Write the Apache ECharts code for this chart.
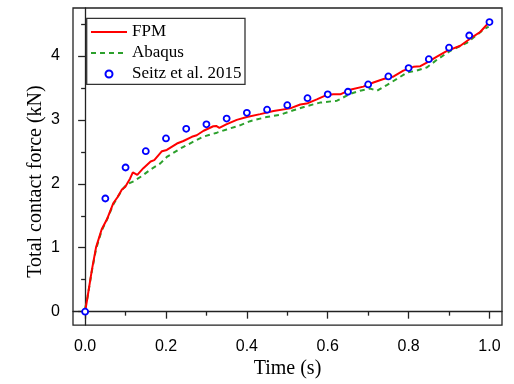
<!DOCTYPE html>
<html>
<head>
<meta charset="utf-8">
<script src="https://cdn.jsdelivr.net/npm/echarts@6/dist/echarts.min.js"></script>
<style>html,body{margin:0;padding:0;background:#fff;}#c{width:514px;height:384px;}</style>
</head>
<body>
<div id="c"></div>
<script>
var fpmTime = [0,0.006,0.0165,0.027,0.041,0.054,0.070,0.080,0.091,0.099,0.111,0.118,0.129,0.144,0.162,0.171,0.19,0.202,0.227,0.243,0.264,0.276,0.293,0.317,0.324,0.332,0.349,0.375,0.40,0.433,0.466,0.507,0.532,0.548,0.573,0.598,0.614,0.631,0.655,0.688,0.713,0.738,0.763,0.787,0.812,0.829,0.845,0.87,0.895,0.928,0.952,0.977,0.998];
var fpmForce = [0,0.23,0.645,1.006,1.29,1.445,1.70,1.79,1.91,1.95,2.08,2.18,2.14,2.245,2.35,2.37,2.51,2.53,2.63,2.67,2.735,2.76,2.83,2.90,2.905,2.875,2.93,3.00,3.045,3.09,3.14,3.18,3.24,3.255,3.32,3.39,3.40,3.40,3.47,3.52,3.585,3.64,3.68,3.77,3.83,3.84,3.895,3.99,4.08,4.16,4.27,4.375,4.52];
var abaqusTime = [0,0.006,0.0165,0.027,0.041,0.054,0.070,0.080,0.095,0.103,0.12,0.14,0.161,0.186,0.202,0.235,0.268,0.293,0.326,0.35,0.383,0.408,0.449,0.482,0.515,0.548,0.581,0.623,0.655,0.68,0.705,0.722,0.746,0.771,0.796,0.82,0.845,0.87,0.903,0.944,0.985,0.998];
var abaqusForce = [0.05,0.23,0.63,0.98,1.27,1.44,1.68,1.79,1.935,1.99,2.04,2.12,2.22,2.32,2.42,2.55,2.66,2.74,2.80,2.85,2.915,2.98,3.045,3.08,3.15,3.215,3.27,3.30,3.405,3.455,3.49,3.455,3.545,3.64,3.74,3.77,3.82,3.94,4.08,4.205,4.41,4.46];
var seitzTime = [0,0.05,0.10,0.15,0.20,0.25,0.30,0.35,0.40,0.45,0.50,0.55,0.60,0.65,0.70,0.75,0.80,0.85,0.90,0.95,1.00];
var seitzForce = [0,1.77,2.255,2.51,2.71,2.86,2.93,3.02,3.11,3.16,3.23,3.34,3.40,3.44,3.555,3.68,3.81,3.95,4.13,4.32,4.53];
var xMajorTicks = [0,0.2,0.4,0.6,0.8,1.0];
var xMinorTicks = [0.1,0.3,0.5,0.7,0.9];
var yMajorTicks = [0,1,2,3,4];
var yMinorTicks = [0.5,1.5,2.5,3.5,4.5];
var seriesNames = ['FPM','Abaqus','Seitz et al. 2015'];

function pairs(a,b){return a.map(function(v,i){return [v,b[i]];});}

var serif = 'Liberation Serif';
var sans = 'Liberation Sans';
var axisCol = '#222';

var chart = echarts.init(document.getElementById('c'), null, {renderer:'canvas'});
var legendBase = {
  orient:'horizontal', left:90, padding:0, itemGap:0, itemWidth:36,
  textStyle:{fontFamily:serif, fontSize:17, color:'#000'}
};
chart.setOption({
  animation:false,
  backgroundColor:'#fff',
  grid:{left:73, right:12, top:8, bottom:55.5, show:true, borderColor:axisCol, borderWidth:1.3, backgroundColor:'transparent'},
  legend:[
    Object.assign({}, legendBase, {top:23.5, itemHeight:14, data:[seriesNames[0]], itemStyle:{opacity:0}, lineStyle:{width:2}}),
    Object.assign({}, legendBase, {top:44.5, itemHeight:14, data:[seriesNames[1]], itemStyle:{opacity:0}, lineStyle:{width:2, type:[5,4]}}),
    Object.assign({}, legendBase, {top:65.5, left:104.5, itemHeight:7, data:[seriesNames[2]]})
  ],
  xAxis:[{
    type:'value', min:-0.03, max:1.031,
    name:'Time (s)', nameLocation:'middle', nameGap:29,
    nameTextStyle:{fontFamily:serif, fontSize:20, color:'#000'},
    axisLine:{show:true, lineStyle:{color:axisCol, width:1.3}},
    axisTick:{show:true, inside:false, length:7, customValues:xMajorTicks, lineStyle:{color:axisCol, width:1.3}},
    axisLabel:{show:true, customValues:xMajorTicks, margin:13, fontFamily:sans, fontSize:16, color:'#000', formatter:function(v){return v.toFixed(1);}},
    splitLine:{show:false}
  },{
    type:'value', min:-0.03, max:1.031, position:'bottom',
    axisLine:{show:false},
    axisTick:{show:true, inside:false, length:4, customValues:xMinorTicks, lineStyle:{color:axisCol, width:1.3}},
    axisLabel:{show:false}, splitLine:{show:false}
  }],
  yAxis:[{
    type:'value', min:-0.21, max:4.75,
    axisLine:{show:true, lineStyle:{color:axisCol, width:1.3}},
    axisTick:{show:true, inside:false, length:7, customValues:yMajorTicks, lineStyle:{color:axisCol, width:1.3}},
    axisLabel:{show:true, customValues:yMajorTicks, margin:13, fontFamily:sans, fontSize:16, color:'#000'},
    splitLine:{show:false}
  },{
    type:'value', min:-0.21, max:4.75, position:'left',
    axisLine:{show:false},
    axisTick:{show:true, inside:false, length:4, customValues:yMinorTicks, lineStyle:{color:axisCol, width:1.3}},
    axisLabel:{show:false}, splitLine:{show:false}
  }],
  graphic:[
    {type:'rect', shape:{x:86.7, y:18.3, width:158.3, height:66}, style:{fill:'none', stroke:'#333', lineWidth:1.3}, z:10},
    {type:'text', x:36, y:181.5, rotation:Math.PI/2, style:{text:'Total contact force (kN)', font:'20px "Liberation Serif"', fill:'#000', align:'center', verticalAlign:'middle'}}
  ],
  series:[
    {name:seriesNames[0], type:'line', data:pairs(fpmTime,fpmForce), showSymbol:false, symbol:'none', smooth:false,
     lineStyle:{color:'#ff0000', width:2, type:'solid'}, itemStyle:{color:'#ff0000'}, z:3},
    {name:seriesNames[1], type:'line', data:pairs(abaqusTime,abaqusForce), showSymbol:false, symbol:'none', smooth:false,
     lineStyle:{color:'#2ca02c', width:2, type:[5,4]}, itemStyle:{color:'#2ca02c'}, z:2},
    {name:seriesNames[2], type:'scatter', data:pairs(seitzTime,seitzForce), symbol:'circle', symbolSize:6,
     itemStyle:{color:'#ffffff', borderColor:'#0000ff', borderWidth:1.8, opacity:1}, z:4}
  ]
});
</script>
</body>
</html>
